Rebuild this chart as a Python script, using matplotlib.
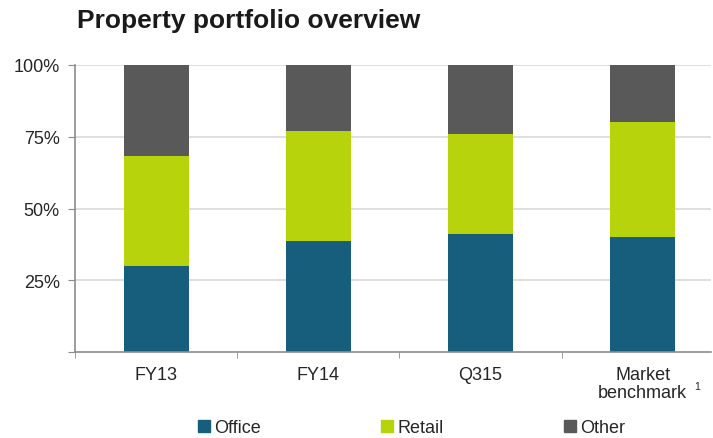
import matplotlib.pyplot as plt
from matplotlib.lines import Line2D
import numpy as np

plt.rcParams['font.family'] = ['Liberation Sans', 'DejaVu Sans']

categories = ['FY13', 'FY14', 'Q315', 'Market\nbenchmark']
office = [30.0, 38.7, 41.0, 40.0]
retail = [38.3, 38.3, 35.0, 40.0]
other = [31.7, 23.0, 24.0, 20.0]

colOffice = '#175e7c'
colRetail = '#b7d30c'
colOther = '#595959'
axisGray = '#8c8c8c'
textCol = '#262626'

fig = plt.figure(figsize=(7.13, 4.39), dpi=100)
ax = fig.add_axes([75 / 713, 86 / 439, (711 - 75) / 713, (353 - 66) / 439])

x = np.arange(len(categories))
w = 0.40
ax.bar(x, office, w, color=colOffice, zorder=2, label='Office')
ax.bar(x, retail, w, bottom=office, color=colRetail, zorder=2, label='Retail')
ax.bar(x, other, w, bottom=np.array(office) + np.array(retail), color=colOther, zorder=2, label='Other')

ax.set_xlim(-0.5, 3.42)
ax.set_ylim(0, 100)
ax.set_yticks([0, 25, 50, 75, 100])
ax.set_yticklabels(['', '25%', '50%', '75%', '100%'], fontsize=13, color=textCol)
for yv in [25, 50, 75, 100]:
    ax.axhline(yv, color='#d9d9d9', lw=1.2, zorder=1)

ax.set_xticks(x)
ax.set_xticklabels(categories, fontsize=13, color=textCol, linespacing=1.1)
ax.tick_params(axis='x', length=0, pad=10)
ax.set_xticks([-0.5, 0.5, 1.5, 2.5], minor=True)
ax.tick_params(axis='x', which='minor', length=4, color=axisGray, direction='out')
ax.tick_params(axis='y', length=5, color=axisGray, direction='out', pad=6)

for s in ['top', 'right']:
    ax.spines[s].set_visible(False)
for s in ['left', 'bottom']:
    ax.spines[s].set_color(axisGray)
    ax.spines[s].set_linewidth(1.2)

fig.text(697 / 713, 1 - 387 / 439, '1', fontsize=7.5, color=textCol, ha='center', va='center')

fig.text(77 / 713, 1 - 21 / 439, 'Property portfolio overview', fontsize=19, fontweight='bold',
         color='#1a1a1a', ha='left', va='center')

handles = [Line2D([], [], marker='s', ls='', color=c, markersize=9) for c in [colOffice, colRetail, colOther]]
fig.legend(handles, ['Office', 'Retail', 'Other'], loc='center', bbox_to_anchor=(0.575, 1 - 429 / 439),
           ncol=3, frameon=False, fontsize=13, handletextpad=0.05, columnspacing=6.5, handlelength=1.0,
           labelcolor=textCol, borderpad=0.2)

fig.savefig('out.png', dpi=100)
